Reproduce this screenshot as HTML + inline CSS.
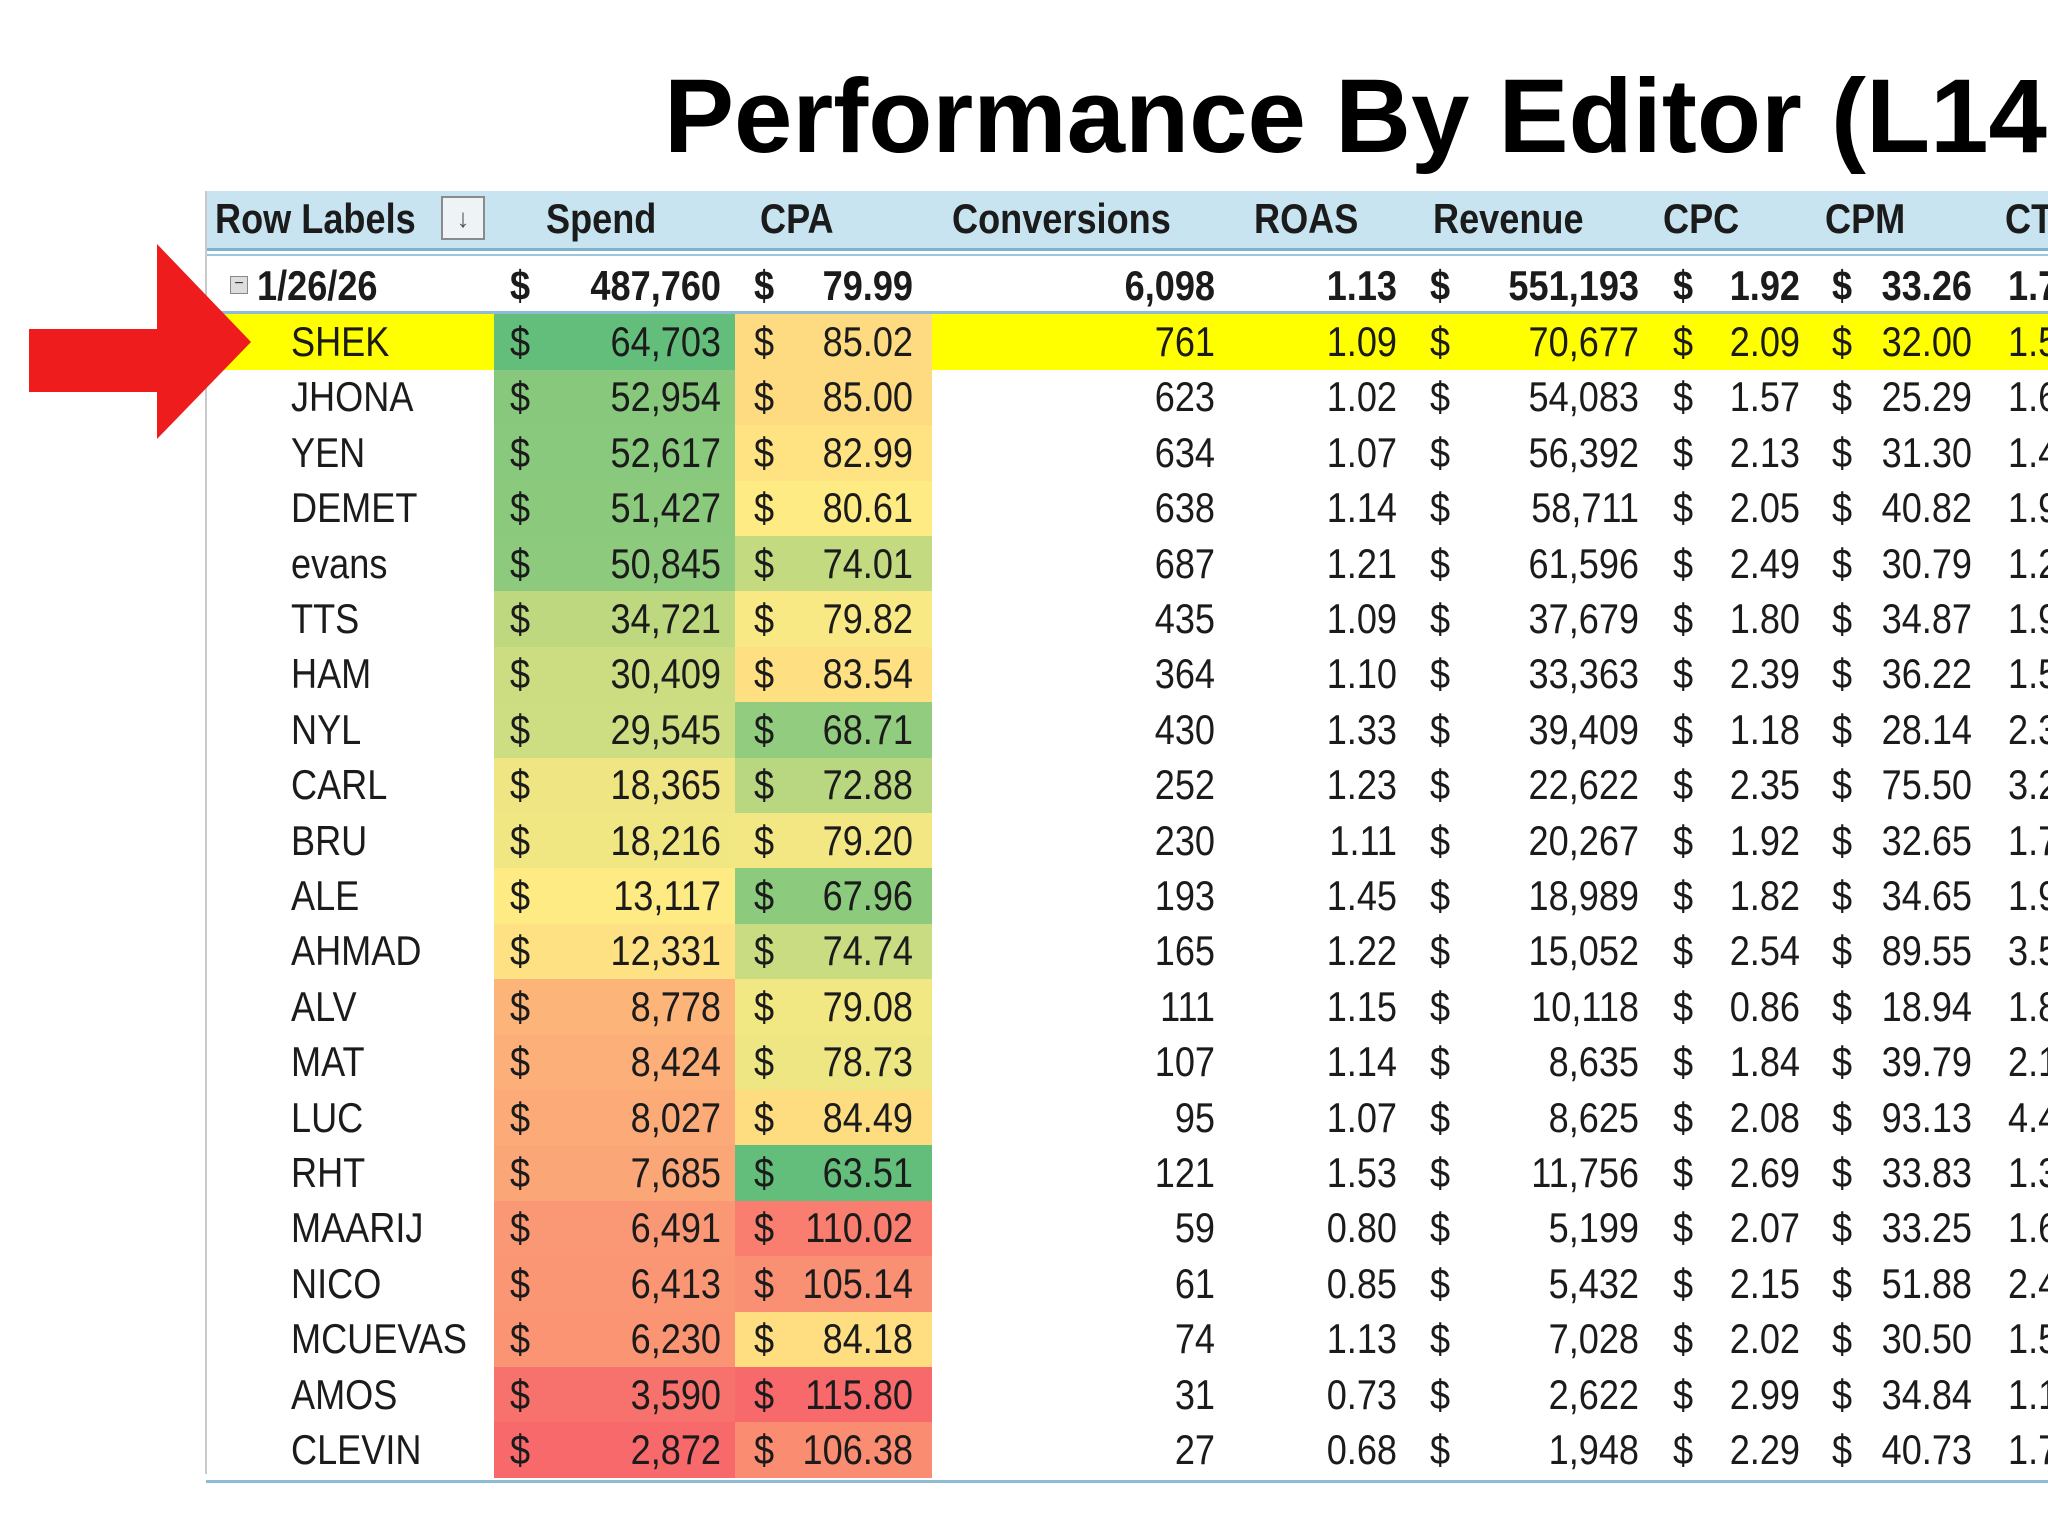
<!DOCTYPE html>
<html><head><meta charset="utf-8">
<style>
html,body{margin:0;padding:0;background:#fff;}
body{width:2048px;height:1536px;overflow:hidden;position:relative;font-family:"Liberation Sans Narrow","Liberation Sans",sans-serif;color:#1b1b1b;}
.t{position:absolute;white-space:nowrap;font-size:42px;line-height:56px;transform:scaleX(0.86);transform-origin:left center;}
.r{text-align:right;transform-origin:right center;}
.b{font-weight:bold;}
.cell{position:absolute;}
</style></head><body>
<div style="position:absolute;left:664px;top:57px;font-family:'Liberation Sans',sans-serif;font-weight:bold;font-size:105px;line-height:120px;white-space:nowrap;color:#000;">Performance By Editor (L14D)</div>

<div style="position:absolute;left:206px;top:191px;width:1842px;height:57px;background:#c7e4f0;"></div>
<div style="position:absolute;left:206px;top:248px;width:1842px;height:3px;background:#7fb3cc;"></div>
<div style="position:absolute;left:206px;top:254px;width:1842px;height:2px;background:#9cc6da;"></div>
<div style="position:absolute;left:205px;top:191px;width:2px;height:1283px;background:#c9c9c9;"></div>
<div style="position:absolute;left:441px;top:196px;width:44px;height:44px;border:2px solid #8a8a8a;background:#eef3f6;box-sizing:border-box;font-size:26px;line-height:40px;text-align:center;color:#555;z-index:2;">↓</div>
<div style="position:absolute;left:230px;top:276px;width:18px;height:18px;border:1px solid #888;background:#ddd;box-sizing:border-box;font-size:16px;line-height:14px;text-align:center;color:#333;">−</div>
<div id="tbl"></div>
<svg style="position:absolute;left:0;top:0;z-index:5" width="260" height="460"><polygon points="29,329 157,329 157,244 251,342 157,439 157,392 29,392" fill="#ee1c1c"/></svg>
<script>
const names=["SHEK","JHONA","YEN","DEMET","evans","TTS","HAM","NYL","CARL","BRU","ALE","AHMAD","ALV","MAT","LUC","RHT","MAARIJ","NICO","MCUEVAS","AMOS","CLEVIN"];
const spend=[64703,52954,52617,51427,50845,34721,30409,29545,18365,18216,13117,12331,8778,8424,8027,7685,6491,6413,6230,3590,2872];
const cpa=[85.02,85.00,82.99,80.61,74.01,79.82,83.54,68.71,72.88,79.20,67.96,74.74,79.08,78.73,84.49,63.51,110.02,105.14,84.18,115.80,106.38];
const conv=[761,623,634,638,687,435,364,430,252,230,193,165,111,107,95,121,59,61,74,31,27];
const roas=[1.09,1.02,1.07,1.14,1.21,1.09,1.10,1.33,1.23,1.11,1.45,1.22,1.15,1.14,1.07,1.53,0.80,0.85,1.13,0.73,0.68];
const revenue=[70677,54083,56392,58711,61596,37679,33363,39409,22622,20267,18989,15052,10118,8635,8625,11756,5199,5432,7028,2622,1948];
const cpc=[2.09,1.57,2.13,2.05,2.49,1.80,2.39,1.18,2.35,1.92,1.82,2.54,0.86,1.84,2.08,2.69,2.07,2.15,2.02,2.99,2.29];
const cpm=[32.00,25.29,31.30,40.82,30.79,34.87,36.22,28.14,75.50,32.65,34.65,89.55,18.94,39.79,93.13,33.83,33.25,51.88,30.50,34.84,40.73];
const ctr=[1.5,1.6,1.4,1.9,1.2,1.9,1.5,2.3,3.2,1.7,1.9,3.5,1.8,2.1,4.4,1.3,1.6,2.4,1.5,1.1,1.7];
const headers=["Row Labels","Spend","CPA","Conversions","ROAS","Revenue","CPC","CPM","CT"];
const headerX=[215,546,760,952,1254,1433,1663,1825,2005];
const total={label:"1/26/26",spend:487760,cpa:79.99,conv:6098,roas:1.13,rev:551193,cpc:1.92,cpm:33.26,ctr:1.7};
const highlightRow=0;

const T=document.getElementById('tbl');
const fmtInt=v=>v.toLocaleString('en-US');
const f2=v=>v.toFixed(2);
function txt(x,y,s,cls,name,w){const d=document.createElement('div');d.className='t '+(cls||'');d.textContent=s;
 if(cls&&cls.includes('r')){d.style.left=(x-(w||300))+'px';d.style.width=(w||300)+'px';}else d.style.left=x+'px';
 d.style.top=(y-28)+'px';
 
 
 T.appendChild(d);return d;}
function rect(x,y,w,h,c,name){const d=document.createElement('div');d.className='cell';d.style.cssText+=`left:${x}px;top:${y}px;width:${w}px;height:${h}px;background:${c}`;
 
 
 T.appendChild(d);}
function lerp(a,b,t){return a.map((v,i)=>Math.round(v+(b[i]-v)*t));}
const RED=[248,105,107],YEL=[255,235,132],GRN=[99,190,123];
function scale(vals,v,highGood){const s=[...vals].sort((a,b)=>a-b);const mn=s[0],mx=s[s.length-1];const n=s.length;const med=(s[(n-1)>>1]+s[n>>1])/2;
 let lo=highGood?RED:GRN,hi=highGood?GRN:RED,c;
 if(v<=med)c=lerp(lo,YEL,(v-mn)/(med-mn));else c=lerp(YEL,hi,(v-med)/(mx-med));return `rgb(${c.join(',')})`;}

headers.forEach((h,i)=>txt(headerX[i],219,h,'b','header-'+h.toLowerCase().replace(/ /g,'-')));

const ty=286;
txt(257,ty,total.label,'b','total-label');
txt(510,ty,'$','b','total-spend-dollar');txt(721,ty,fmtInt(total.spend),'b r','total-spend');
txt(754,ty,'$','b','total-cpa-dollar');txt(913,ty,f2(total.cpa),'b r','total-cpa');
txt(1215,ty,fmtInt(total.conv),'b r','total-conversions');
txt(1397,ty,f2(total.roas),'b r','total-roas');
txt(1430,ty,'$','b','total-revenue-dollar');txt(1639,ty,fmtInt(total.rev),'b r','total-revenue');
txt(1673,ty,'$','b','total-cpc-dollar');txt(1800,ty,f2(total.cpc),'b r','total-cpc');
txt(1832,ty,'$','b','total-cpm-dollar');txt(1972,ty,f2(total.cpm),'b r','total-cpm');
txt(2008,ty,total.ctr.toFixed(2)+'%','b','total-ctr');
rect(206,311,1842,3,'#8fbcd2','total-row-border');

const y0=342,rh=55.4;
names.forEach((n,i)=>{
 const cy=y0+i*rh,top=cy-rh/2;
 if(i===highlightRow)rect(206,top,1842,rh,'#ffff00','highlight-row');
 rect(494,top,241,rh+0.6,scale(spend,spend[i],true),'spend-cell-'+n.toLowerCase());
 rect(735,top,197,rh+0.6,scale(cpa,cpa[i],false),'cpa-cell-'+n.toLowerCase());
 const k=n.toLowerCase();
 txt(291,cy,n,'','row-label-'+k);
 txt(510,cy,'$','','spend-dollar-'+k);txt(721,cy,fmtInt(spend[i]),'r','spend-'+k);
 txt(754,cy,'$','','cpa-dollar-'+k);txt(913,cy,f2(cpa[i]),'r','cpa-'+k);
 txt(1215,cy,fmtInt(conv[i]),'r','conversions-'+k);
 txt(1397,cy,f2(roas[i]),'r','roas-'+k);
 txt(1430,cy,'$','','revenue-dollar-'+k);txt(1639,cy,fmtInt(revenue[i]),'r','revenue-'+k);
 txt(1673,cy,'$','','cpc-dollar-'+k);txt(1800,cy,f2(cpc[i]),'r','cpc-'+k);
 txt(1832,cy,'$','','cpm-dollar-'+k);txt(1972,cy,f2(cpm[i]),'r','cpm-'+k);
 txt(2008,cy,ctr[i].toFixed(2)+'%','','ctr-'+k);
});
rect(206,y0+names.length*rh-rh/2+2,1842,3,'#8fbcd2','table-bottom-border');
</script>
</body></html>
